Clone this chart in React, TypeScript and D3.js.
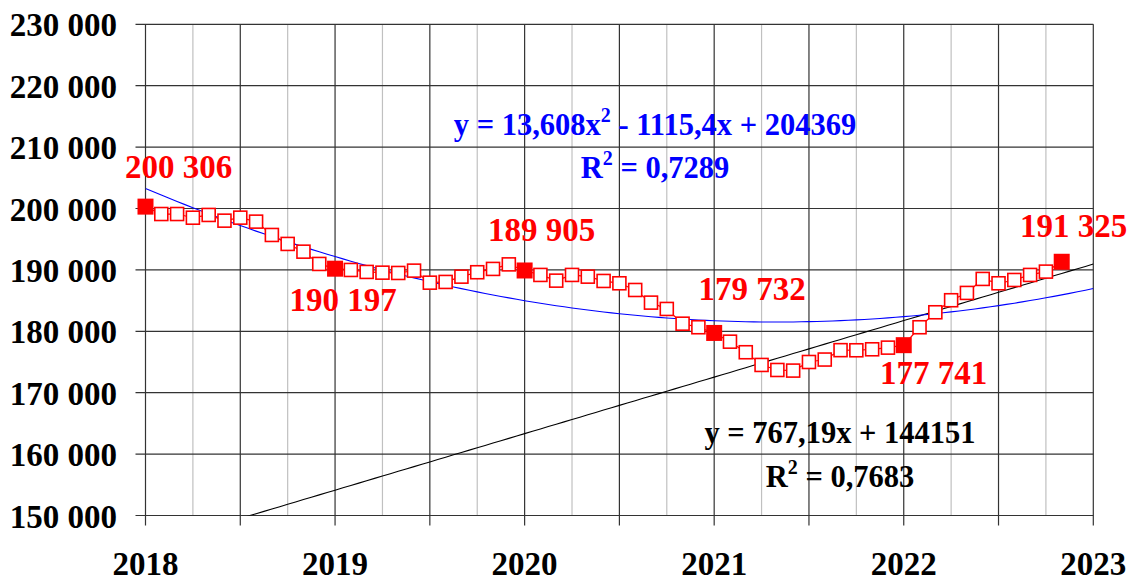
import React from 'react';
import * as d3 from 'd3';

// monthly values, Jan 2018 .. Nov 2022
const values = [
  200306, 199100, 199100, 198500, 198950, 198020, 198510, 197860, 195690, 194230, 192970, 190970,
  190197, 189990, 189670, 189550, 189500, 189880, 187920, 188040, 188900, 189620, 190160, 190900,
  189905, 189180, 188250, 189180, 188900, 188200, 187820, 186730, 184670, 183640, 181240, 180660,
  179732, 178310, 176590, 174520, 173700, 173600, 175000, 175400, 176930, 176910, 177070, 177340,
  177741, 180660, 183100, 185060, 186250, 188530, 187820, 188360, 189180, 189720,
  191325,
];
const highlighted = [0, 12, 24, 36, 48, 58];
const labelTexts = ['200 306', '190 197', '189 905', '179 732', '177 741', '191 325'];
const labelOffsets = [[33, -29], [8, 42], [17, -29], [38, -33], [30, 39], [12, -25]];
const years = [2018, 2019, 2020, 2021, 2022, 2023];
const yTicks = [150000, 160000, 170000, 180000, 190000, 200000, 210000, 220000, 230000];
// trend lines as printed on the chart (x = 1-based month number)
const quadCoef = [13.608, -1115.4, 204369];
const linCoef = [767.19, 144151];

const W = 1131;
const H = 582;
const left = 145.5;
const right = 1093.3;
const top = 24.3;
const bottom = 515.5;
const font = '"Liberation Serif", "Times New Roman", serif';
const fmt = (v: number) => d3.format(',')(v).replace(/,/g, ' ');

const App = () => {
  const x = d3.scaleLinear().domain([0, 60]).range([left, right]);
  const y = d3.scaleLinear().domain([150000, 230000]).range([bottom, top]);

  const line = d3.line<number>().x((d, i) => x(i)).y(d => y(d));
  const trendIdx = d3.range(0, 60.01, 0.5);
  const quad = d3.line<number>().x(i => x(i)).y(i => {
    const t = i + 1;
    return y(quadCoef[0] * t * t + quadCoef[1] * t + quadCoef[2]);
  });
  const lin = d3.line<number>().x(i => x(i)).y(i => y(linCoef[0] * (i + 1) + linCoef[1]));

  const quarters = d3.range(0, 21);

  return (
    <svg width={W} height={H} style={{ position: 'absolute', left: 0, top: 0, background: '#fff' }}>
      <defs>
        <clipPath id="plot">
          <rect x={left} y={top} width={right - left} height={bottom - top} />
        </clipPath>
      </defs>
      {quarters.filter(q => q % 2 === 1).map(q => (
        <line key={'lq' + q} x1={x(q * 3)} x2={x(q * 3)} y1={top} y2={bottom} stroke="#c0c0c0" strokeWidth={1.2} />
      ))}
      {quarters.filter(q => q % 2 === 0).map(q => (
        <line key={'dq' + q} x1={x(q * 3)} x2={x(q * 3)} y1={top} y2={bottom + 10} stroke="#333" strokeWidth={1.2} />
      ))}
      {yTicks.map(t => (
        <g key={t}>
          <line x1={left - 10} x2={right} y1={y(t)} y2={y(t)} stroke="#333" strokeWidth={1.2} />
          <text x={117} y={y(t) + 12} textAnchor="end" fontFamily={font} fontWeight="bold" fontSize={33}>{fmt(t)}</text>
        </g>
      ))}
      {years.map((yr, i) => (
        <text key={yr} x={x(i * 12)} y={575} textAnchor="middle" fontFamily={font} fontWeight="bold" fontSize={33}>{yr}</text>
      ))}
      <g clipPath="url(#plot)">
        <path d={lin(trendIdx) || ''} fill="none" stroke="#000" strokeWidth={1.1} />
        <path d={quad(trendIdx) || ''} fill="none" stroke="#0000ff" strokeWidth={1.1} />
      </g>
      <path d={line(values) || ''} fill="none" stroke="#ff0000" strokeWidth={1.2} />
      {values.map((v, i) => highlighted.includes(i) ? null : (
        <rect key={i} x={x(i) - 6.5} y={y(v) - 6.5} width={13} height={13} fill="#fff" stroke="#ff0000" strokeWidth={1.6} />
      ))}
      {highlighted.map(i => (
        <rect key={'h' + i} x={x(i) - 8} y={y(values[i]) - 8} width={16} height={16} fill="#ff0000" />
      ))}
      {highlighted.map((i, k) => (
        <text key={'l' + i} x={x(i) + labelOffsets[k][0]} y={y(values[i]) + labelOffsets[k][1]} textAnchor="middle"
          fontFamily={font} fontWeight="bold" fontSize={33} fill="#ff0000">{labelTexts[k]}</text>
      ))}
      <g fontFamily={font} fontWeight="bold" fontSize={30.5} textAnchor="middle">
        <text x={655} y={135} fill="#0000ff">y = 13,608x<tspan dy={-13} fontSize={20}>2</tspan><tspan dy={13}> - 1115,4x + 204369</tspan></text>
        <text x={655} y={178} fill="#0000ff">R<tspan dy={-13} fontSize={20}>2</tspan><tspan dy={13}> = 0,7289</tspan></text>
        <text x={840} y={443} fill="#000">y = 767,19x + 144151</text>
        <text x={840} y={487} fill="#000">R<tspan dy={-13} fontSize={20}>2</tspan><tspan dy={13}> = 0,7683</tspan></text>
      </g>
    </svg>
  );
};

export default App;
